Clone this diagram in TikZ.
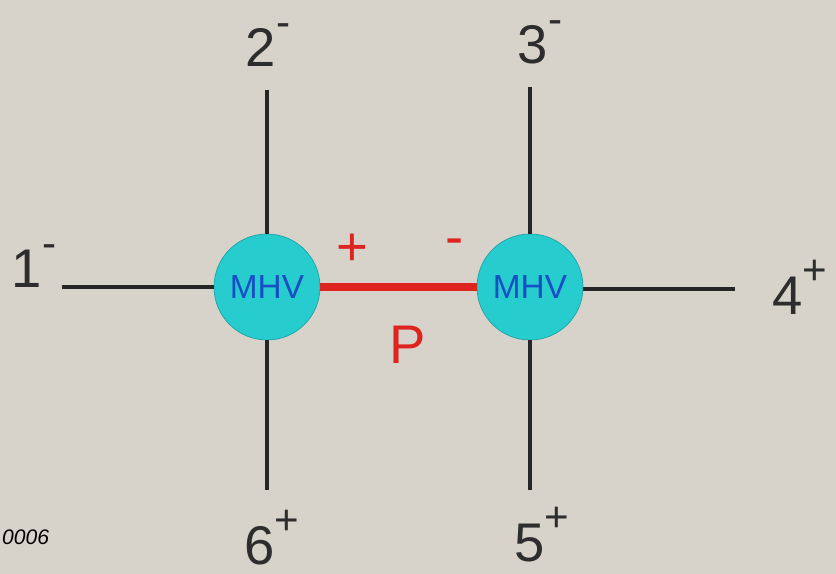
\documentclass[tikz,border=0pt]{standalone}
\usepackage{fontspec}
\setmainfont{Liberation Sans}
\definecolor{bgpaper}{RGB}{216,211,202}
\definecolor{mhvcyan}{RGB}{38,204,206}
\definecolor{mhvblue}{RGB}{24,78,196}
\definecolor{proped}{RGB}{222,36,30}
\definecolor{inkgray}{RGB}{45,45,45}
\newcommand{\hel}[1]{\raisebox{0.55em}{\fontsize{24}{26}\selectfont#1}}

\begin{document}
\begin{tikzpicture}[
  x=0.02cm, y=-0.02cm,
  every node/.style={font=\fontsize{31}{36}\selectfont, text=inkgray, inner sep=1pt},
  leg/.style={line width=1.8pt, black!85},
  vertex/.style={circle, fill=mhvcyan, draw=mhvcyan!80!black, line width=0.4pt,
    minimum size=106*0.02cm, inner sep=0pt, text=mhvblue,
    font=\fontsize{19}{22}\selectfont},
]

% ---- Canvas: 836 x 574 px, y runs downward ----
\useasboundingbox[fill=bgpaper] (0,0) rectangle (836,574);

% ---- MHV vertices ----
\node[vertex] (mhvL) at (267,287) {MHV};
\node[vertex] (mhvR) at (530,287) {MHV};

% ---- Free ends of external legs ----
\coordinate (e1) at (62,287);
\coordinate (e2) at (267,90);
\coordinate (e6) at (267,490);
\coordinate (e3) at (530,87);
\coordinate (e5) at (530,490);
\coordinate (e4) at (735,289);

% ---- External legs ----
\draw[leg] (mhvL.west) -- (e1);
\draw[leg] (mhvL.north) -- (e2);
\draw[leg] (mhvL.south) -- (e6);
\draw[leg] (mhvR.north) -- (e3);
\draw[leg] (mhvR.south) -- (e5);
\draw[leg] (mhvR.east |- e4) -- (e4);

% ---- Propagator ----
\draw[proped, line width=4.5pt] (mhvL.east) -- (mhvR.west);
\node[text=proped] (hplus) at (352,250) {+};
\node[text=proped] (hminus) at (455,247) {-};
\node[text=proped] (prop) at (408,345) {P};

% ---- Leg labels ----
\node (l1) at (34,266) {1\hel{-}};
\node (l2) at (268,45) {2\hel{-}};
\node (l3) at (540,42) {3\hel{-}};
\node (l4) at (800,287) {4\hel{+}};
\node (l5) at (542,535) {5\hel{+}};
\node (l6) at (272,538) {6\hel{+}};

% ---- Tag ----
\node[font=\fontsize{12}{14}\selectfont\itshape, text=black, anchor=west] (tag) at (0,537) {0006};

\end{tikzpicture}
\end{document}
